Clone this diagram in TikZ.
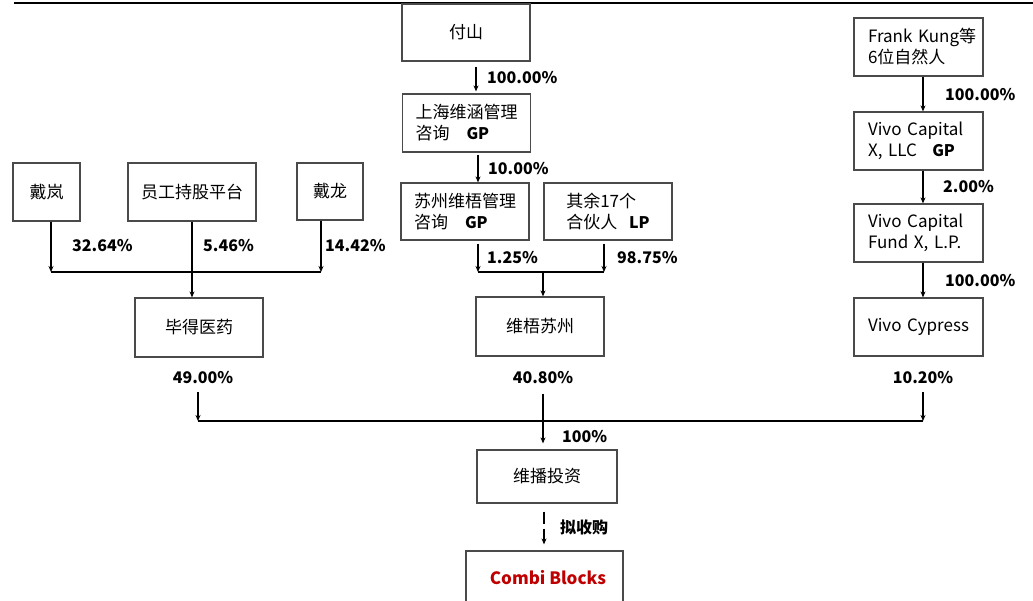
\documentclass[tikz,border=0pt]{standalone}
\usepackage{fontspec}
\setmainfont{Noto Sans CJK SC}
\usetikzlibrary{arrows.meta,calc}
\definecolor{boxline}{HTML}{4A4A4A}
\definecolor{combired}{HTML}{C00000}
\newcommand\roletag[1]{{\fontsize{16}{19}\selectfont\bfseries #1}}
\begin{document}
\begin{tikzpicture}[x=1pt,y=-1pt,
  box/.style={draw=boxline,line width=1.2pt,rectangle,inner sep=0pt,
    font=\fontsize{17}{21}\selectfont,align=left},
  vbox/.style={box,minimum width=129pt,minimum height=58pt,text width=101pt,inner xsep=14pt},
  arr/.style={-{Stealth[length=6pt,width=5pt]},line width=1.1pt},
  ln/.style={line width=1.1pt},
  pct/.style={font=\fontsize{16}{19}\selectfont\bfseries,inner sep=0pt}]
\useasboundingbox (0,0) rectangle (1033,601);
\clip (0,0) rectangle (1033,601);

% top rule
\draw[line width=2.2pt] (14,3) -- (1033,3);

% ---- middle column ----
\node[box,minimum width=128pt,minimum height=57pt] (fushan) at (466,32.5) {付山};
\node[box,minimum width=128pt,minimum height=58pt] (shwh) at (466.5,123) {上海维涵管理\\咨询\hspace{1em}\roletag{GP}};
\node[box,minimum width=128pt,minimum height=57pt] (szgl) at (465,211.5) {苏州维梧管理\\咨询\hspace{1em}\roletag{GP}};
\node[box,minimum width=128pt,minimum height=57pt] (qiyu) at (608,211.5) {其余17个\\合伙人\hspace{0.7em}\roletag{LP}};
\node[box,minimum width=128pt,minimum height=59pt] (wwsz) at (540,326.5) {维梧苏州};

% ---- left column ----
\node[box,minimum width=67pt,minimum height=58pt] (dailan) at (46.5,192) {戴岚};
\node[box,minimum width=128pt,minimum height=58pt] (yg) at (192,192) {员工持股平台};
\node[box,minimum width=66pt,minimum height=57pt] (dailong) at (330,191.5) {戴龙};
\node[box,minimum width=128pt,minimum height=59pt] (bide) at (199,327.5) {毕得医药};

% ---- right column ----
\node[vbox] (frank) at (918.5,47) {\mbox{Frank Kung等}\\6位自然人};
\node[vbox] (llc) at (918.5,141) {Vivo Capital\\X, LLC\hspace{0.9em}\roletag{GP}};
\node[vbox] (fund) at (918.5,233) {Vivo Capital\\Fund X, L.P.};
\node[vbox] (cypress) at (918.5,327) {Vivo Cypress};

% ---- bottom ----
\node[box,minimum width=140pt,minimum height=53pt] (weibo) at (547,476.5) {维播投资};
\node[box,minimum width=157pt,minimum height=54pt,text=combired,font=\fontsize{17}{21}\selectfont\bfseries] (combi) at (544.5,578) {\hspace{7pt}Combi Blocks};

% ---- junction coordinates ----
\coordinate (xA) at (476,0);
\coordinate (xB) at (478,0);
\coordinate (jA) at (478,272);
\coordinate (jB) at (604,272);
\coordinate (jC) at (543,272);
\coordinate (jL1) at (51,272);
\coordinate (jL2) at (321,272);
\coordinate (xR) at (923,0);
\coordinate (b1) at (198,421);
\coordinate (b2) at (543,421);
\coordinate (b3) at (923,421);
\coordinate (xW) at (544,0);

% middle arrows
\draw[arr,shorten <=5pt,shorten >=2pt] (fushan.south -| xA) -- (shwh.north -| xA);
\node[pct,anchor=west] (p1) at (487,78) {100.00\%};
\draw[arr,shorten <=2pt] (shwh.south -| xB) -- (szgl.north -| xB);
\node[pct,anchor=west] (p2) at (488,169) {10.00\%};
\draw[arr,shorten <=3pt] (szgl.south -| jA) -- (jA);
\draw[arr,shorten <=3pt] (qiyu.south -| jB) -- (jB);
\draw[ln] (jA) -- (jB);
\draw[arr] (jC) -- (wwsz.north -| jC);
\node[pct,anchor=west] (p3) at (487,258) {1.25\%};
\node[pct,anchor=west] (p4) at (617,258) {98.75\%};

% left arrows
\draw[arr] (dailan.south -| jL1) -- (jL1);
\draw[arr] (dailong.south -| jL2) -- (jL2);
\draw[ln] (jL1) -- (jL2);
\draw[arr] (yg.south) -- (bide.north -| yg.south);
\node[pct,anchor=west] (p5) at (72,246) {32.64\%};
\node[pct,anchor=west] (p6) at (203,246) {5.46\%};
\node[pct,anchor=west] (p7) at (325,246) {14.42\%};

% right arrows
\draw[arr] (frank.south -| xR) -- (llc.north -| xR);
\node[pct,anchor=west] (p8) at (945,95) {100.00\%};
\draw[arr] (llc.south -| xR) -- (fund.north -| xR);
\node[pct,anchor=west] (p9) at (943,187) {2.00\%};
\draw[arr] (fund.south -| xR) -- (cypress.north -| xR);
\node[pct,anchor=west] (p10) at (945,281) {100.00\%};

% bottom arrows
\node[pct] (p49) at (203,378) {49.00\%};
\node[pct] (p40) at (543,378) {40.80\%};
\node[pct] (p10b) at (923,378) {10.20\%};
\draw[arr,shorten <=8pt] (p49.south -| b1) -- (b1);
\draw[arr,shorten <=8pt] (p10b.south -| b3) -- (b3);
\draw[ln] (b1) -- (b3);
\draw[arr,shorten <=10pt,shorten >=6pt] (p40.south -| b2) -- (weibo.north -| b2);
\node[pct,anchor=west] (p100) at (562,437) {100\%};
\draw[arr,dash pattern=on 12pt off 5pt,shorten <=8pt,shorten >=6pt] (weibo.south -| xW) -- (combi.north -| xW);
\node[pct,anchor=west] (nsg) at (560,527) {拟收购};
\end{tikzpicture}
\end{document}
